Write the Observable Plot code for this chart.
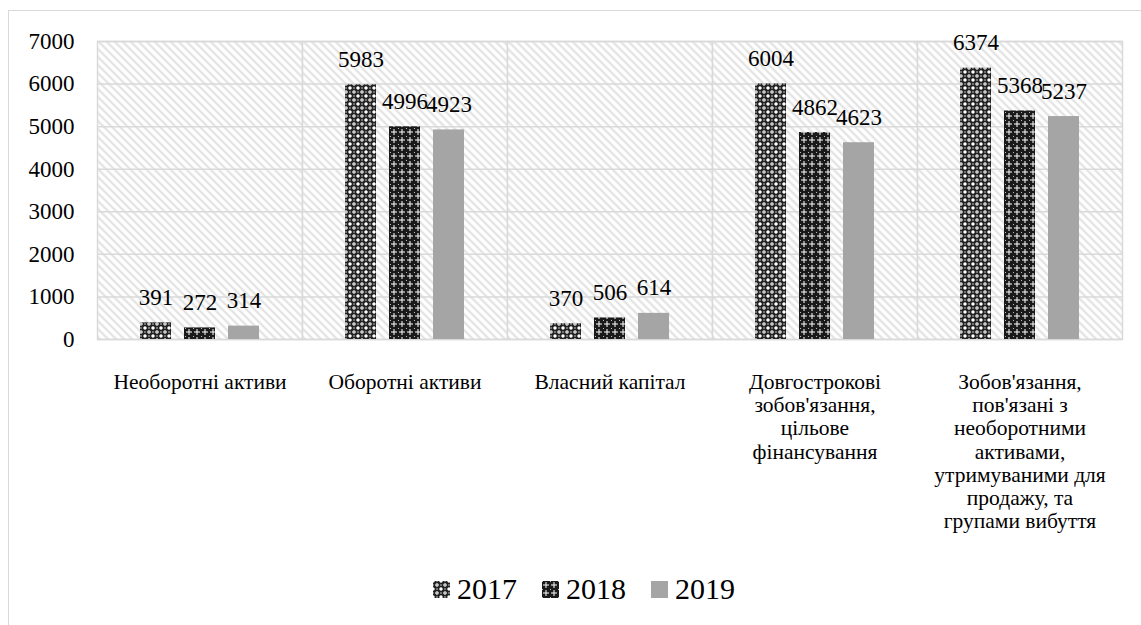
<!DOCTYPE html>
<html><head><meta charset="utf-8">
<script src="https://cdn.jsdelivr.net/npm/d3@7"></script>
<script src="https://cdn.jsdelivr.net/npm/@observablehq/plot@0.6"></script>
<style>
body{margin:0;background:#fff;width:1141px;height:625px;overflow:hidden;position:relative;font-family:"Liberation Serif","Times New Roman",serif;}
#border{position:absolute;left:8px;top:10px;width:1200px;height:700px;border:1px solid #d9d9d9;}
#chart{position:absolute;left:0;top:0;}
#legend{position:absolute;top:571px;left:433px;display:flex;align-items:center;font-size:30px;color:#000;line-height:36px;}
#legend .item{display:flex;align-items:center;margin-right:25px;}
#legend svg{margin-right:7px;}
#defs{position:absolute;width:0;height:0;}
</style></head>
<body>
<svg id="defs" width="0" height="0">
  <defs>
    <pattern id="hatch" width="8" height="8" patternUnits="userSpaceOnUse">
      <rect width="8" height="8" fill="#ffffff"/>
      <path d="M-2,-2 L10,10 M-2,6 L2,10 M6,-2 L10,2" stroke="#e0e0e0" stroke-width="2"/>
    </pattern>
    <pattern id="p2017" width="8" height="8" patternUnits="userSpaceOnUse">
      <rect width="8" height="8" fill="#ffffff"/>
      <circle cx="0" cy="0" r="2.6" fill="none" stroke="#222" stroke-width="1.7"/>
      <circle cx="8" cy="0" r="2.6" fill="none" stroke="#222" stroke-width="1.7"/>
      <circle cx="0" cy="8" r="2.6" fill="none" stroke="#222" stroke-width="1.7"/>
      <circle cx="8" cy="8" r="2.6" fill="none" stroke="#222" stroke-width="1.7"/>
      <circle cx="4" cy="4" r="2.6" fill="none" stroke="#222" stroke-width="1.7"/>
      <rect x="3.5" y="3.5" width="1" height="1" fill="#222"/>
    </pattern>
    <pattern id="p2018" width="8" height="8" patternUnits="userSpaceOnUse">
      <rect width="8" height="8" fill="#1a1a1a"/>
      <rect x="3.5" y="1" width="1" height="6" fill="#ffffff"/>
      <rect x="1" y="3.5" width="6" height="1" fill="#ffffff"/>
      <rect x="0" y="0" width="1" height="1" fill="#bbb"/>
    </pattern>
  </defs>
</svg>
<div id="border"></div>
<div id="chart"></div>
<div id="legend"></div>
<script>
const categories = ["Необоротні активи", "Оборотні активи", "Власний капітал", "Довгострокові зобов'язання, цільове фінансування", "Зобов'язання, пов'язані з необоротними активами, утримуваними для продажу, та групами вибуття"];
const categoryLabels = ["Необоротні активи", "Оборотні активи", "Власний капітал", "Довгострокові\nзобов'язання,\nцільове\nфінансування", "Зобов'язання,\nпов'язані з\nнеоборотними\nактивами,\nутримуваними для\nпродажу, та\nгрупами вибуття"];
const years = ["2017", "2018", "2019"];
const values2017 = [391, 5983, 370, 6004, 6374];
const values2018 = [272, 4996, 506, 4862, 5368];
const values2019 = [314, 4923, 614, 4623, 5237];
const yTicks = [0, 1000, 2000, 3000, 4000, 5000, 6000, 7000];

const serifCss = '"Liberation Serif", "Times New Roman", serif';
const seriesFill = {"2017": "url(#p2017)", "2018": "url(#p2018)", "2019": "#a5a5a5"};
const series = {"2017": values2017, "2018": values2018, "2019": values2019};
const data = [];
categories.forEach((c, i) => years.forEach(y => data.push({cat: c, year: y, value: series[y][i]})));

const chart = Plot.plot({
  width: 1141,
  height: 560,
  marginLeft: 96,
  marginRight: 18,
  marginTop: 41,
  marginBottom: 221,
  style: {fontFamily: serifCss, fontSize: "23px", color: "#000", background: "transparent", overflow: "visible"},
  fx: {domain: categories, padding: 0, axis: null, label: null},
  x: {domain: years, paddingInner: 0.3, paddingOuter: 0.932, axis: null},
  y: {domain: [0, 7000], ticks: 7, tickSize: 0, tickPadding: 23, tickFormat: d => String(d), label: null},
  marks: [
    Plot.frame({fill: "url(#hatch)", stroke: "#d9d9d9", strokeWidth: 1.5}),
    Plot.ruleY(yTicks, {y: d => d, stroke: "#d9d9d9", strokeWidth: 1.5}),
    Plot.barY(data, {fx: "cat", x: "year", y: "value", fill: d => seriesFill[d.year]}),
    Plot.text(data, {fx: "cat", x: "year", y: "value", text: d => String(d.value), lineAnchor: "bottom", dy: -18, fontSize: 23, fill: "#000"}),
    Plot.text(categories, {fx: d => d, text: (d, i) => categoryLabels[i], frameAnchor: "bottom", lineAnchor: "top", dy: 33, fontSize: 21.5, lineHeight: 1.08, fill: "#000"})
  ]
});
chart.style.fontFamily = serifCss;
chart.querySelectorAll("g, text, tspan").forEach(el => {
  el.removeAttribute("font-family");
  el.style.setProperty("font-family", serifCss, "important");
});
document.getElementById("chart").appendChild(chart);

const legend = document.getElementById("legend");
years.forEach(y => {
  const item = document.createElement("div");
  item.className = "item";
  item.innerHTML = `<svg width="17" height="17"><rect width="17" height="17" fill="${seriesFill[y]}"/></svg><span>${y}</span>`;
  legend.appendChild(item);
});
</script>
</body></html>
